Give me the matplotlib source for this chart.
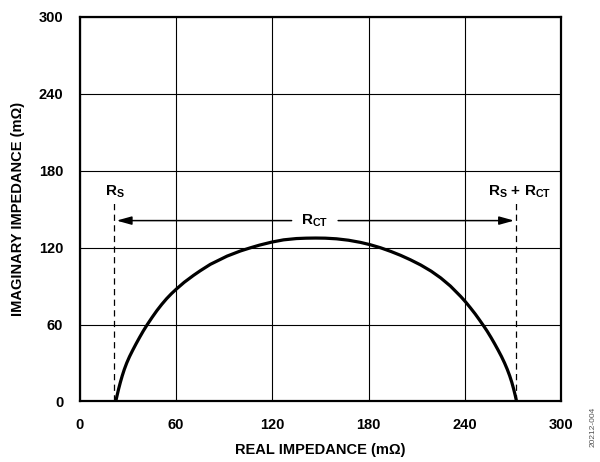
import numpy as np
import matplotlib
matplotlib.use("Agg")
import matplotlib.pyplot as plt

plt.rcParams['font.family'] = ['Liberation Sans', 'DejaVu Sans']
plt.rcParams['font.weight'] = 'bold'
plt.rcParams['mathtext.fontset'] = 'custom'
plt.rcParams['mathtext.rm'] = 'Liberation Sans:bold'
plt.rcParams['mathtext.bf'] = 'Liberation Sans:bold'
plt.rcParams['mathtext.it'] = 'Liberation Sans:bold'

# nyquist curve (mOhm)
real_z = [22.3, 23.2, 24.15, 25.2, 26.35, 27.65, 29.15, 30.9, 32.9, 35.0, 37.2, 39.5,
          42.0, 45.0, 48.0, 51.0, 54.0, 57.0, 60.0, 65.0, 70.8, 75.0, 81.3, 91.7,
          100.0, 106.3, 112.0, 119.8, 127.0, 135.0, 141.0, 147.0, 153.0, 160.0,
          167.5, 175.0, 181.0, 187.5, 194.0, 200.0, 206.0, 212.5, 219.0, 225.0,
          231.0, 237.5, 240.5, 243.5, 246.5, 249.2, 251.7, 253.9, 256.3, 258.6,
          260.8, 262.9, 264.8, 266.5, 268.0, 269.3, 270.4, 271.4, 272.3]
imag_z = [0.0, 5.0, 10.0, 15.0, 20.0, 25.0, 30.0, 35.0, 40.0, 45.0, 50.0, 55.0,
          60.0, 65.6, 70.9, 75.7, 80.1, 84.0, 87.5, 92.9, 98.3, 101.9, 106.9, 113.3,
          117.3, 119.8, 121.9, 124.3, 126.0, 127.0, 127.3, 127.4, 127.3, 126.8,
          125.7, 124.0, 122.2, 119.8, 116.9, 113.9, 110.5, 106.4, 101.6, 96.3,
          90.0, 81.8, 77.6, 73.0, 68.2, 63.5, 59.0, 54.9, 50.0, 45.0,
          40.0, 35.0, 30.0, 25.0, 20.0, 15.0, 10.0, 5.0, 0.0]

rs = 21.5
rs_rct = 272.0
arrow_y = 141.0
ticks = [0, 60, 120, 180, 240, 300]

fig = plt.figure(figsize=(6.0, 4.62), dpi=100)
ax = fig.add_axes([0.1333, 0.131, 0.8017, 0.833])

ax.plot(real_z, imag_z, color='black', lw=2.3, solid_joinstyle='round', zorder=3)

# dashed markers for Rs and Rs + Rct
ax.plot([rs, rs], [0, 155], color='black', lw=0.9, dashes=(5, 3.5))
ax.plot([rs_rct, rs_rct], [0, 155], color='black', lw=0.9, dashes=(5, 3.5))

ax.text(rs, 157, r'$\mathregular{R_S}$', ha='center', va='bottom', fontsize=11)
ax.text(rs_rct + 2, 157, r'$\mathregular{R_S}$ + $\mathregular{R_{CT}}$', ha='center',
        va='bottom', fontsize=11)
ax.text(146.5, arrow_y, r'$\mathregular{R_{CT}}$', ha='center', va='center', fontsize=11)

arr = dict(arrowstyle='-|>,head_length=0.9,head_width=0.25', color='black', lw=1.1,
           shrinkA=0, shrinkB=0)
ax.annotate('', xy=(rs + 1.3, arrow_y), xytext=(132, arrow_y), arrowprops=arr)
ax.annotate('', xy=(rs_rct - 1.2, arrow_y), xytext=(161, arrow_y), arrowprops=arr)

ax.set_xlim(0, 300)
ax.set_ylim(0, 300)
ax.set_xticks(ticks)
ax.set_yticks(ticks)
ax.grid(True, color='black', lw=0.8)
ax.tick_params(length=0, pad=12, labelsize=10.5)
for s in ax.spines.values():
    s.set_linewidth(1.6)

ax.set_xlabel('REAL IMPEDANCE (mΩ)', fontsize=10.5, fontweight='bold', labelpad=8)
ax.set_ylabel('IMAGINARY IMPEDANCE (mΩ)', fontsize=10.5, fontweight='bold', labelpad=10)

fig.text(0.995, 0.075, '20212-004', rotation=90, fontsize=6, color='#555555',
         fontweight='normal', ha='right', va='center')

fig.savefig('out.png', dpi=100)
